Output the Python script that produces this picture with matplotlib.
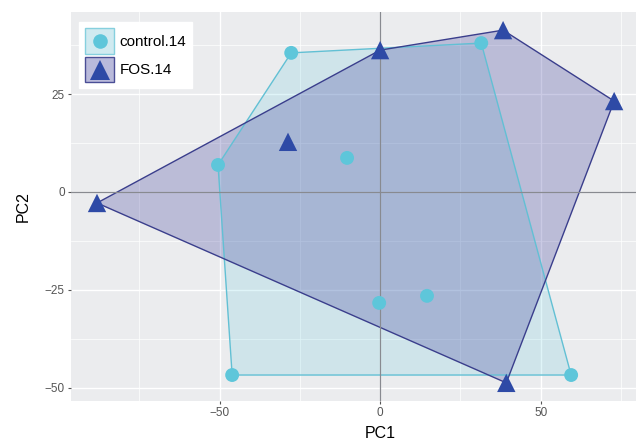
import matplotlib
matplotlib.use("Agg")
import matplotlib.pyplot as plt
from matplotlib.patches import Polygon, Rectangle
from matplotlib.lines import Line2D
from matplotlib.legend_handler import HandlerBase
from matplotlib.ticker import MultipleLocator
import numpy as np

plt.rcParams['font.family'] = ['Liberation Sans', 'DejaVu Sans']

# ---- data ----
groups = ["control.14", "FOS.14"]
control_pc1 = [-27.7, 31.5, -50.5, -10.3, -0.3, 14.6, -46.1, 59.5]
control_pc2 = [35.5, 38.0, 6.9, 8.7, -28.3, -26.5, -46.7, -46.7]
fos_pc1 = [-88.2, -28.7, 0.0, 38.3, 72.9, 39.3]
fos_pc2 = [-2.8, 12.8, 36.2, 41.3, 23.2, -48.7]
x_ticks = [-50, 0, 50]
y_ticks = [-50, -25, 0, 25]

# ---- styles ----
pt_colors = {"control.14": "#5ec6da", "FOS.14": "#2e4aa6"}
fill_colors = {"control.14": "#62c8dc", "FOS.14": "#3c3c9c"}
fill_alpha = {"control.14": 0.2, "FOS.14": 0.27}
edge_colors = {"control.14": "#62c0d4", "FOS.14": "#3a3e8c"}
markers = {"control.14": "o", "FOS.14": "^"}
msizes = {"control.14": 100, "FOS.14": 175}
key_fill = {"control.14": "#d0eaf0", "FOS.14": "#b9badb"}
key_edge = {"control.14": "#86d0de", "FOS.14": "#4a4e96"}
key_msize = {"control.14": 10.5, "FOS.14": 14.5}


def convex_hull(xs, ys):
    pts = sorted(set(zip(xs, ys)))
    if len(pts) <= 2:
        return pts

    def cross(o, a, b):
        return (a[0] - o[0]) * (b[1] - o[1]) - (a[1] - o[1]) * (b[0] - o[0])

    lower = []
    for p in pts:
        while len(lower) >= 2 and cross(lower[-2], lower[-1], p) <= 0:
            lower.pop()
        lower.append(p)
    upper = []
    for p in reversed(pts):
        while len(upper) >= 2 and cross(upper[-2], upper[-1], p) <= 0:
            upper.pop()
        upper.append(p)
    return lower[:-1] + upper[:-1]


class GroupKey:
    def __init__(self, g):
        self.g = g


class KeyHandler(HandlerBase):
    def create_artists(self, legend, orig_handle, xdescent, ydescent,
                       width, height, fontsize, trans):
        g = orig_handle.g
        rect = Rectangle((-xdescent, -ydescent), width, height,
                         facecolor=key_fill[g], edgecolor=key_edge[g],
                         linewidth=1.0, transform=trans)
        cx = -xdescent + width / 2
        cy = -ydescent + height / 2
        mk = Line2D([cx], [cy], linestyle="none", marker=markers[g],
                    markersize=key_msize[g], color=pt_colors[g],
                    markeredgewidth=0, transform=trans)
        return [rect, mk]


W, H = 636, 448
fig = plt.figure(figsize=(W / 100, H / 100), dpi=100)
left_px, right_px, top_px, bottom_px = 71, 640, 12.5, 400.5
ax = fig.add_axes([left_px / W, 1 - bottom_px / H,
                   (right_px - left_px) / W, (bottom_px - top_px) / H])
ax.set_facecolor("#ebecee")
for s in ax.spines.values():
    s.set_visible(False)

ax.set_xlim(-96.3, 80.95)
ax.set_ylim(-53.2, 45.8)
ax.xaxis.set_minor_locator(MultipleLocator(25))
ax.yaxis.set_minor_locator(MultipleLocator(12.5))
ax.set_xticks(x_ticks)
ax.set_yticks(y_ticks)
ax.grid(True, which="major", color="white", linewidth=1.0)
ax.grid(True, which="minor", color="white", linewidth=0.5)
ax.set_axisbelow(True)
ax.tick_params(which="major", length=2.5, width=0.8, color="#555555",
               labelcolor="#555555", labelsize=8.5, pad=2)
ax.tick_params(which="minor", length=0)

data = {
    "control.14": (control_pc1, control_pc2),
    "FOS.14": (fos_pc1, fos_pc2),
}

# hulls
for g in groups:
    xs, ys = data[g]
    hull = convex_hull(xs, ys)
    ax.add_patch(Polygon(hull, closed=True, facecolor=fill_colors[g],
                         alpha=fill_alpha[g], edgecolor="none", zorder=2))
    ax.add_patch(Polygon(hull, closed=True, facecolor="none",
                         edgecolor=edge_colors[g], linewidth=1.0, zorder=2.1))

ax.axhline(0, color="#888a90", linewidth=0.9, zorder=2.5)
ax.axvline(0, color="#888a90", linewidth=0.9, zorder=2.5)

for g in groups:
    xs, ys = data[g]
    ax.scatter(xs, ys, s=msizes[g], marker=markers[g], color=pt_colors[g],
               edgecolors="none", zorder=3)

ax.set_xlabel("PC1", fontsize=11.5, color="black")
ax.set_ylabel("PC2", fontsize=11.5, color="black")
ax.xaxis.set_label_coords(380 / W, 1 - 426 / H, transform=fig.transFigure)
ax.yaxis.set_label_coords(31 / W, 1 - 207 / H, transform=fig.transFigure)

# legend
handles = [GroupKey(g) for g in groups]
leg = ax.legend(handles, groups, handler_map={GroupKey: KeyHandler()},
                loc="upper left",
                bbox_to_anchor=(79 / W, 1 - 22 / H),
                bbox_transform=fig.transFigure, borderaxespad=0,
                frameon=True, fancybox=False, framealpha=1,
                edgecolor="white", facecolor="white",
                handlelength=1.9, handleheight=2.2, fontsize=11,
                labelspacing=0.2, borderpad=0.4, handletextpad=0.35)
leg.set_zorder(5)

fig.savefig("out.png", dpi=100)
